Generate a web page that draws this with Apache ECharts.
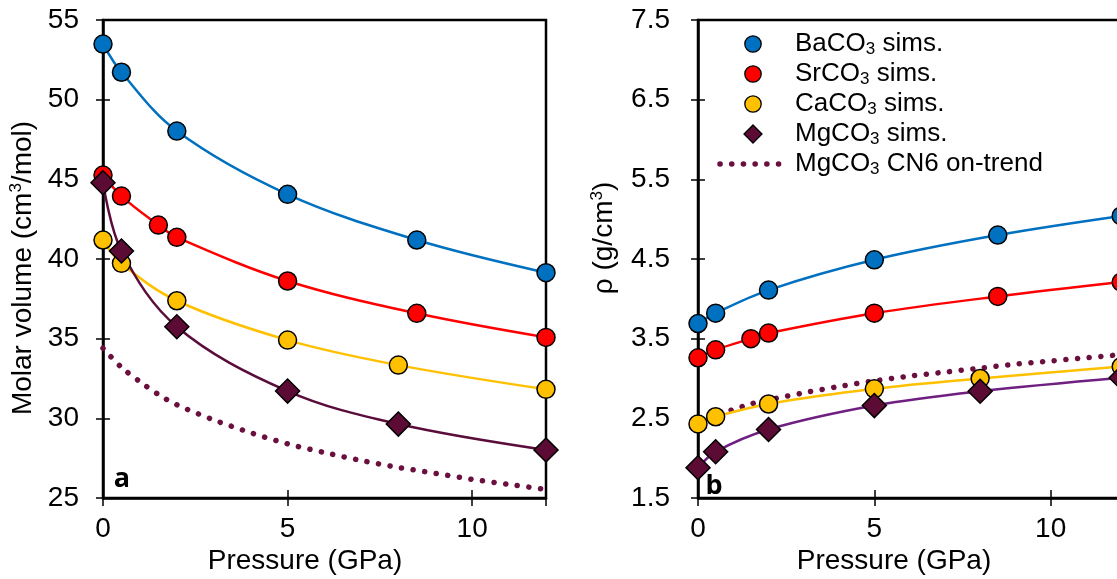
<!DOCTYPE html>
<html><head><meta charset="utf-8">
<script src="https://cdn.jsdelivr.net/npm/echarts@6/dist/echarts.min.js"></script>
<style>html,body{margin:0;padding:0;background:#fff;overflow:hidden}#c{width:1126px;height:579px}</style>
</head><body><div id="c"></div>
<script>
// ---- data ----
const pressTicks = [0, 5, 10];
const volTicks = [25, 30, 35, 40, 45, 50, 55];
const rhoTicks = [1.5, 2.5, 3.5, 4.5, 5.5, 6.5, 7.5];
const pressMax = 12;

const pressBa = [0, 0.5, 2, 5, 8.5, 12];
const pressSr = [0, 0.5, 1.5, 2, 5, 8.5, 12];
const pressCa = [0, 0.5, 2, 5, 8, 12];
const pressMg = [0, 0.5, 2, 5, 8, 12];
const pressCN6 = [0, 0.5, 1, 1.5, 2, 3, 4, 5, 6, 7, 8, 9, 10, 11, 12];

const volBa = [53.49, 51.72, 48.03, 44.06, 41.19, 39.14];
const volSr = [45.27, 43.95, 42.13, 41.36, 38.62, 36.59, 35.08];
const volCa = [41.19, 39.73, 37.38, 34.91, 33.34, 31.82];
const volMg = [44.79, 40.50, 35.75, 31.71, 29.64, 28.01];
const volCN6 = [34.4, 33.2, 32.3, 31.5, 30.85, 29.9, 29.1, 28.4, 27.85, 27.35, 26.92, 26.55, 26.17, 25.85, 25.54];

const rhoBa = [3.69, 3.82, 4.11, 4.49, 4.80, 5.04];
const rhoSr = [3.26, 3.36, 3.50, 3.57, 3.82, 4.03, 4.21];
const rhoCa = [2.43, 2.52, 2.68, 2.87, 3.00, 3.15];
const rhoMg = [1.88, 2.08, 2.36, 2.66, 2.84, 3.01];
const rhoCN6 = [2.45, 2.54, 2.61, 2.68, 2.73, 2.82, 2.90, 2.97, 3.03, 3.08, 3.13, 3.18, 3.22, 3.26, 3.30];

const legendKeys = ['Ba', 'Sr', 'Ca', 'Mg', 'CN6'];
const legendNames = {
  Ba: 'BaCO{sub|3} sims.',
  Sr: 'SrCO{sub|3} sims.',
  Ca: 'CaCO{sub|3} sims.',
  Mg: 'MgCO{sub|3} sims.',
  CN6: 'MgCO{sub|3} CN6 on-trend'
};

// ---- styling ----
const FONT = 'Liberation Sans, Arial, sans-serif';
const C = { Ba: '#0070C0', Sr: '#FF0000', Ca: '#FFC000', Mg: '#5C0B35', dots: '#6A0F3E' };
const mgLine = ['#5A0C3A', '#6E1F80'];
const DOT_DASH = [0.1, 11.6];

const pts = (xs, ys) => xs.map((x, i) => [x, ys[i]]);

function xAxes(g) {
  const base = {
    type: 'value', gridIndex: g, min: 0, max: pressMax, interval: 5, position: 'bottom',
    splitLine: { show: false }
  };
  const fmt = v => (pressTicks.indexOf(v) >= 0 ? String(v) : '');
  return [
    Object.assign({}, base, {
      axisLine: { show: true, onZero: false, lineStyle: { color: '#000', width: 2.5 } },
      axisTick: { show: true, inside: false, length: 8, lineStyle: { color: '#000', width: 1.5 } },
      axisLabel: { show: true, margin: 17, fontSize: 28, color: '#000', fontFamily: FONT, formatter: fmt }
    }),
    Object.assign({}, base, {
      axisLine: { show: false },
      axisTick: { show: true, inside: true, length: 8, lineStyle: { color: '#000', width: 1.5 } },
      axisLabel: { show: false }
    })
  ];
}
function yAxes(g, ticks, margin) {
  const base = {
    type: 'value', gridIndex: g, min: ticks[0], max: ticks[ticks.length - 1],
    interval: ticks[1] - ticks[0], position: 'left', splitLine: { show: false }
  };
  return [
    Object.assign({}, base, {
      axisLine: { show: true, onZero: false, lineStyle: { color: '#000', width: 2.5 } },
      axisTick: { show: true, inside: false, length: 7, lineStyle: { color: '#000', width: 1.5 } },
      axisLabel: { show: true, margin: margin, fontSize: 28, color: '#000', fontFamily: FONT }
    }),
    Object.assign({}, base, {
      axisLine: { show: false },
      axisTick: { show: true, inside: true, length: 7, lineStyle: { color: '#000', width: 1.5 } },
      axisLabel: { show: false }
    })
  ];
}

function panelSeries(xi, yi, d, mgColor) {
  const s = [];
  s.push({
    name: 'CN6', type: 'line', xAxisIndex: xi, yAxisIndex: yi, data: pts(pressCN6, d.CN6),
    smooth: 0.3, symbol: 'none', z: 2,
    lineStyle: { color: C.dots, width: 5.5, type: DOT_DASH, cap: 'round' }
  });
  const fits = [['Ba', pressBa, C.Ba], ['Sr', pressSr, C.Sr], ['Ca', pressCa, C.Ca], ['Mg', pressMg, mgColor]];
  fits.forEach(([k, xs, col]) => {
    s.push({
      name: k + ' fit', type: 'line', xAxisIndex: xi, yAxisIndex: yi, data: pts(xs, d[k]),
      smooth: 0.35, symbol: 'none', z: 3,
      lineStyle: { color: col, width: 2.5 }
    });
  });
  const sc = [['Ba', pressBa, 'circle', 18], ['Sr', pressSr, 'circle', 18], ['Ca', pressCa, 'circle', 18], ['Mg', pressMg, 'diamond', 24]];
  sc.forEach(([k, xs, sym, sz]) => {
    s.push({
      name: k, type: 'scatter', xAxisIndex: xi, yAxisIndex: yi, data: pts(xs, d[k]),
      symbol: sym, symbolSize: sz, clip: false, z: 5,
      itemStyle: { color: C[k], borderColor: '#000', borderWidth: 1.5, opacity: 1 }
    });
  });
  return s;
}

const supRich = { sup: { fontSize: 17, fontFamily: FONT, lineHeight: 14, verticalAlign: 'top', fill: '#000' } };
const subRich = { sub: { fontSize: 17, fontFamily: FONT, lineHeight: 12, verticalAlign: 'bottom', fill: '#000' } };

// legend built as graphic (icon + rich text)
const LEG = { iconX: 753, textX: 795, rows: [44, 74, 104, 134, 164] };
const legendGraphic = [];
legendKeys.forEach((k, i) => {
  const y = LEG.rows[i];
  if (k === 'CN6') {
    legendGraphic.push({ type: 'line', shape: { x1: 720, y1: y, x2: 782, y2: y },
      style: { stroke: C.dots, lineWidth: 5.5, lineDash: DOT_DASH, lineCap: 'round' } });
  } else if (k === 'Mg') {
    legendGraphic.push({ type: 'polygon', shape: { points: [[LEG.iconX, y - 9], [LEG.iconX + 9, y], [LEG.iconX, y + 9], [LEG.iconX - 9, y]] },
      style: { fill: C.Mg, stroke: '#000', lineWidth: 1.3 } });
  } else {
    legendGraphic.push({ type: 'circle', shape: { cx: LEG.iconX, cy: y, r: 8.2 },
      style: { fill: C[k], stroke: '#000', lineWidth: 1.3 } });
  }
  legendGraphic.push({ type: 'text', x: LEG.textX, y: y,
    style: { text: legendNames[k], fontSize: 26, fontFamily: FONT, fill: '#000', align: 'left', verticalAlign: 'middle', lineHeight: 28, rich: subRich } });
});

const option = {
  backgroundColor: '#fff',
  animation: false,
  grid: [
    { left: 103, top: 20, width: 443, height: 478, show: true, borderColor: '#000', borderWidth: 2.5, backgroundColor: 'transparent' },
    { left: 698, top: 20, width: 423.2, height: 478, show: true, borderColor: '#000', borderWidth: 2.5, backgroundColor: 'transparent' }
  ],
  xAxis: [...xAxes(0), ...xAxes(1)],
  yAxis: [...yAxes(0, volTicks, 24), ...yAxes(1, rhoTicks, 28)],
  graphic: [
    { type: 'text', x: 23, y: 268, rotation: Math.PI / 2,
      style: { text: 'Molar volume (cm{sup|3}/mol)', fontSize: 28, fontFamily: FONT, fill: '#000', align: 'center', verticalAlign: 'middle', lineHeight: 30, rich: supRich } },
    { type: 'text', x: 604, y: 238, rotation: Math.PI / 2,
      style: { text: 'ρ (g/cm{sup|3})', fontSize: 28, fontFamily: FONT, fill: '#000', align: 'center', verticalAlign: 'middle', lineHeight: 30, rich: supRich } },
    { type: 'text', x: 305, y: 561,
      style: { text: 'Pressure (GPa)', fontSize: 28, fontFamily: FONT, fill: '#000', align: 'center', verticalAlign: 'middle' } },
    { type: 'text', x: 894, y: 561,
      style: { text: 'Pressure (GPa)', fontSize: 28, fontFamily: FONT, fill: '#000', align: 'center', verticalAlign: 'middle' } },
    { type: 'text', x: 122, y: 479,
      style: { text: 'a', fontSize: 27, fontWeight: 'bold', fontFamily: 'Open Sans, Liberation Sans, sans-serif', fill: '#000', align: 'center', verticalAlign: 'middle' } },
    { type: 'text', x: 714, y: 486,
      style: { text: 'b', fontSize: 27, fontWeight: 'bold', fontFamily: 'Open Sans, Liberation Sans, sans-serif', fill: '#000', align: 'center', verticalAlign: 'middle' } },
    ...legendGraphic
  ],
  series: [
    ...panelSeries(0, 0, { Ba: volBa, Sr: volSr, Ca: volCa, Mg: volMg, CN6: volCN6 }, mgLine[0]),
    ...panelSeries(2, 2, { Ba: rhoBa, Sr: rhoSr, Ca: rhoCa, Mg: rhoMg, CN6: rhoCN6 }, mgLine[1])
  ]
};

const chart = echarts.init(document.getElementById('c'), null, { renderer: 'canvas' });
chart.setOption(option);
</script></body></html>
